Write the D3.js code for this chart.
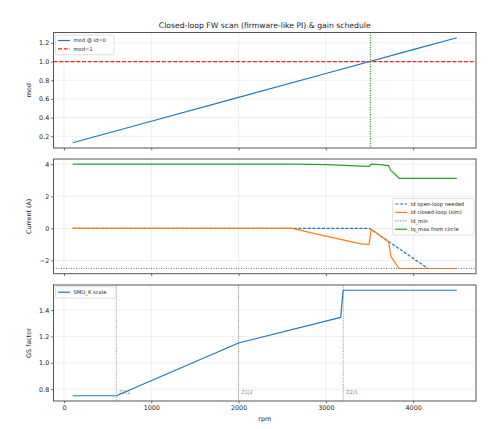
<!DOCTYPE html>
<html><head><meta charset="utf-8">
<script src="https://cdn.jsdelivr.net/npm/d3@7"></script>
<style>body{margin:0;background:#fff}svg{display:block}text{font-family:"DejaVu Sans",sans-serif}</style>
</head><body>
<svg id="c" width="502" height="429"></svg>
<script>
// ---------- data ----------
const xTicks = [0, 1000, 2000, 3000, 4000];

// panel 1: modulation index at id=0
const rpmMod = [100, 1000, 2000, 3000, 4000, 4500];
const modId0 = [0.130, 0.360, 0.616, 0.872, 1.128, 1.255];
const modLimit = 1.0;
const fwStartRpm = 3510;
const modTicks = [0.2, 0.4, 0.6, 0.8, 1.0, 1.2];

// panel 2: currents
const rpmIdOl = [100, 3500, 4170, 4500];
const idOpenLoop = [0, 0, -2.5, -2.5];
const rpmIdCl = [100, 2615, 3010, 3405, 3495, 3520, 3620, 3720, 3745, 3790, 3840, 4500];
const idClosedLoop = [0, 0, -0.5, -0.97, -1.0, -0.05, -0.45, -0.85, -1.75, -2.12, -2.5, -2.5];
const iqMaxCircle = [4.0, 4.0, 3.97, 3.88, 3.87, 4.0, 3.975, 3.91, 3.60, 3.39, 3.12, 3.12];
const idMin = -2.5;
const curTicks = [-2, 0, 2, 4];

// panel 3: gain schedule
const rpmGs = [100, 600, 2000, 3170, 3198, 4500];
const gsFactor = [0.75, 0.75, 1.15, 1.345, 1.55, 1.55];
const zoneEdges = [600, 2000, 3200];
const zoneLabels = ["Z0|1", "Z1|2", "Z2|3"];
const gsTicks = [0.8, 1.0, 1.2, 1.4];

// ---------- layout ----------
const svg = d3.select("#c");
const L = 53.5, R = 476;
const x = d3.scaleLinear().domain([-120, 4720]).range([L, R]);
const panels = [
  {top: 32.5, bottom: 148, dom: [0.074, 1.311], ticks: modTicks, fmt: d3.format(".1f"), label: "mod"},
  {top: 159, bottom: 273.7, dom: [-2.825, 4.325], ticks: curTicks, fmt: d => (d < 0 ? "\u2212" + Math.abs(d) : "" + d), label: "Current (A)"},
  {top: 285, bottom: 401, dom: [0.71, 1.59], ticks: gsTicks, fmt: d3.format(".1f"), label: "GS factor"}
];
const C = {blue: "#1f77b4", orange: "#ff7f0e", green: "#2ca02c", red: "#ee2020", gray: "#888"};
const FT = 6.4;
const LW = 1.2;

panels.forEach((p, i) => {
  p.y = d3.scaleLinear().domain(p.dom).range([p.bottom, p.top]);
  const g = svg.append("g");
  p.g = g;
  svg.append("clipPath").attr("id", "clip" + i).append("rect")
    .attr("x", L).attr("y", p.top).attr("width", R - L).attr("height", p.bottom - p.top);
  // grid
  g.selectAll(".gx").data(xTicks).join("line")
    .attr("x1", d => x(d)).attr("x2", d => x(d)).attr("y1", p.top).attr("y2", p.bottom)
    .attr("stroke", "#e6e6e6").attr("stroke-width", 0.7);
  g.selectAll(".gy").data(p.ticks).join("line")
    .attr("x1", L).attr("x2", R).attr("y1", d => p.y(d)).attr("y2", d => p.y(d))
    .attr("stroke", "#e6e6e6").attr("stroke-width", 0.7);
  // axes
  const ay = g.append("g").attr("transform", `translate(${L},0)`)
    .call(d3.axisLeft(p.y).tickValues(p.ticks).tickFormat(p.fmt).tickSize(2.3).tickPadding(2));
  const ax = g.append("g").attr("transform", `translate(0,${p.bottom})`)
    .call(d3.axisBottom(x).tickValues(xTicks).tickFormat(i === 2 ? d3.format("d") : "").tickSize(2.3).tickPadding(2.5));
  [ay, ax].forEach(a => {
    a.select(".domain").remove();
    a.selectAll("line").attr("stroke", "#444").attr("stroke-width", 0.8);
    a.selectAll("text").attr("font-size", FT).attr("fill", "#222");
  });
  p.plot = svg.append("g").attr("clip-path", `url(#clip${i})`);
  // y label
  svg.append("text").attr("transform", `translate(31,${(p.top + p.bottom) / 2}) rotate(-90)`)
    .attr("text-anchor", "middle").attr("font-size", FT).attr("fill", "#222").text(p.label);
});

function line(p, xs, ys, color, dash, w) {
  const pts = xs.map((v, k) => [v, ys[k]]);
  p.plot.append("path").datum(pts)
    .attr("d", d3.line().x(d => x(d[0])).y(d => p.y(d[1])))
    .attr("fill", "none").attr("stroke", color).attr("stroke-width", w || LW)
    .attr("stroke-dasharray", dash || null).attr("stroke-linejoin", "round");
}
function hline(p, v, color, dash, w) {
  p.plot.append("line").attr("x1", L).attr("x2", R).attr("y1", p.y(v)).attr("y2", p.y(v))
    .attr("stroke", color).attr("stroke-width", w || LW).attr("stroke-dasharray", dash);
}
function vline(p, v, color, dash, w) {
  p.plot.append("line").attr("x1", x(v)).attr("x2", x(v)).attr("y1", p.top).attr("y2", p.bottom)
    .attr("stroke", color).attr("stroke-width", w || 1).attr("stroke-dasharray", dash);
}

// panel 1
const P1 = panels[0], P2 = panels[1], P3 = panels[2];
line(P1, rpmMod, modId0, C.blue);
hline(P1, modLimit, C.red, "4,1.7", 1.3);
vline(P1, fwStartRpm, C.green, "1.1,1.3", 1.2);

// panel 2
line(P2, rpmIdOl, idOpenLoop, C.blue, "3.2,1.5");
line(P2, rpmIdCl, idClosedLoop, C.orange);
hline(P2, idMin, "#777", "1,1.5", 1.1);
line(P2, rpmIdCl, iqMaxCircle, C.green);

// panel 3
zoneEdges.forEach((z, k) => {
  vline(P3, z, "#888", "1,1.2", 0.9);
  P3.plot.append("text").attr("x", x(z) + 2.7).attr("y", P3.y(0.78)).attr("dy", "0.35em")
    .attr("font-size", 5).attr("fill", "#888").text(zoneLabels[k]);
});
line(P3, rpmGs, gsFactor, C.blue);

// frames
panels.forEach(p => {
  svg.append("rect").attr("x", L).attr("y", p.top).attr("width", R - L).attr("height", p.bottom - p.top)
    .attr("fill", "none").attr("stroke", "#555").attr("stroke-width", 1);
});

// legends
function legend(x0, y0, w, items) {
  const g = svg.append("g");
  const h = items.length * 8.4 + 3;
  g.append("rect").attr("x", x0).attr("y", y0).attr("width", w).attr("height", h).attr("rx", 1.5)
    .attr("fill", "rgba(255,255,255,0.85)").attr("stroke", "#d0d0d0").attr("stroke-width", 0.7);
  items.forEach((it, k) => {
    const yy = y0 + 5.5 + k * 8.4;
    g.append("line").attr("x1", x0 + 2.5).attr("x2", x0 + 14.5).attr("y1", yy).attr("y2", yy)
      .attr("stroke", it.c).attr("stroke-width", LW).attr("stroke-dasharray", it.d || null);
    g.append("text").attr("x", x0 + 18).attr("y", yy).attr("dy", "0.35em")
      .attr("font-size", 5.2).attr("fill", "#222").text(it.t);
  });
}
legend(55.5, 35, 58.5, [{t: "mod @ id=0", c: C.blue}, {t: "mod=1", c: C.red, d: "4,1.7"}]);
legend(392.7, 198.5, 81.3, [
  {t: "Id open-loop needed", c: C.blue, d: "3.2,1.5"},
  {t: "Id closed-loop (sim)", c: C.orange},
  {t: "Id_min", c: "#777", d: "1,1.5"},
  {t: "Iq_max from circle", c: C.green}
]);
legend(55.5, 286.7, 60.5, [{t: "SMO_K scale", c: C.blue}]);

// title & x label
svg.append("text").attr("x", (L + R) / 2).attr("y", 28).attr("text-anchor", "middle")
  .attr("font-size", 7.7).attr("fill", "#222").text("Closed-loop FW scan (firmware-like PI) & gain schedule");
svg.append("text").attr("x", (L + R) / 2).attr("y", 421).attr("text-anchor", "middle")
  .attr("font-size", FT).attr("fill", "#222").text("rpm");
</script>
</body></html>
